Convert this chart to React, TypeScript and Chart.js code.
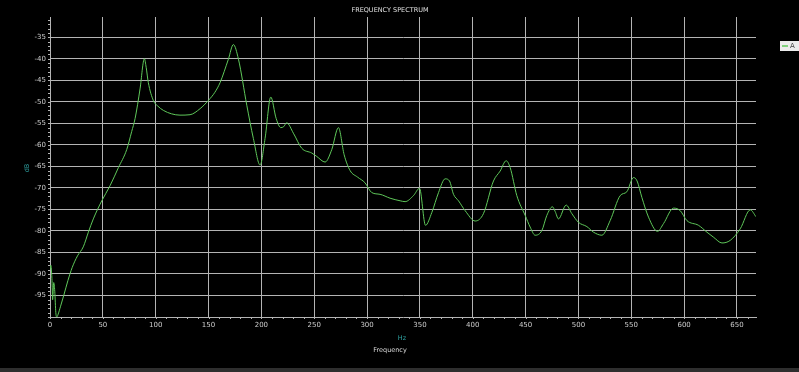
import React, { useEffect, useRef } from "react";
import { Chart, registerables } from "chart.js";

Chart.register(...registerables);

const chartTitle = "FREQUENCY SPECTRUM";
const seriesName = "A";
const xUnit = "Hz";
const xTitle = "Frequency";
const yUnit = "dB";

const xTicks = [0, 50, 100, 150, 200, 250, 300, 350, 400, 450, 500, 550, 600, 650];
const yTicks = [-95, -90, -85, -80, -75, -70, -65, -60, -55, -50, -45, -40, -35];

const freqHz = [
  0, 0.8, 1.8, 2.5, 3.5, 4.5, 5.5, 6.5, 7.5, 10, 13, 17, 21, 26, 31.5, 36.3, 41, 49, 56.8, 64.7,
  72.6, 77.3, 80.5, 85.2, 89.3, 91, 93, 97.8, 102, 107.3, 115, 123, 132.5, 142, 149.8, 156, 161,
  168.8, 173.5, 178.3, 186.2, 192.4, 198.8, 203.5, 208.9, 214, 218.4, 221, 224, 230.3, 238.2,
  247.6, 252.4, 260.3, 266.6, 272.9, 278.3, 284, 291, 298, 304.5, 312.3, 321.8, 331.3, 336,
  343.9, 349.6, 355.3, 361.3, 367.6, 373.9, 378, 381.8, 386.5, 392.8, 402.3, 410.1, 419.6,
  425.9, 431.6, 435.4, 441.7, 449.6, 454.3, 459, 465.4, 470.1, 475.4, 478, 481.1, 488.4, 493.8,
  500, 508, 514.3, 522.2, 530, 539.5, 545.8, 552.1, 555.5, 560, 566.3, 574.8, 580.5, 590, 596.3,
  602.6, 613.6, 621.6, 628, 635.8, 643.6, 653.1, 662.6, 668,
];

const levelDb = [
  -89, -88, -91, -96, -92, -94, -99, -100, -99.5, -97.5, -95, -91.5, -88.5, -85.8, -83.7, -80.3,
  -77.2, -73, -69.5, -65.3, -61.1, -56.9, -53.9, -47, -40, -42, -45.5, -49.7, -51, -52, -52.8,
  -53.1, -53, -51.6, -49.7, -47.8, -45.5, -40.1, -36.7, -40.1, -50.8, -58.5, -64.7, -58.5, -48.9,
  -53.9, -56, -55.8, -54.9, -57.3, -60.8, -61.9, -62.7, -64, -61.1, -56, -62.3, -66, -67.5,
  -68.8, -71.1, -71.5, -72.4, -73, -73.2, -71.8, -70.1, -78.7, -75.7, -71.1, -67.9, -68.4,
  -71.5, -73, -75.3, -77.7, -76, -68.4, -66.1, -63.7, -65.3, -71.8, -76.4, -79.1, -81, -79.9,
  -76.4, -74.4, -75.5, -77.2, -74, -76, -78, -79, -80.3, -81, -77.6, -71.8, -70.9, -67.6, -68.4,
  -72.2, -76.8, -80.1, -78.3, -74.7, -75.3, -77.6, -78.7, -80.3, -81.5, -82.8, -82.2, -79.5,
  -75.1, -76.7,
];

const lineColor = "#5fc85a";
const gridColor = "#b4b4b4";
const tickColor = "#cdcdcd";
const tealColor = "#2fa3a3";

const extrasPlugin = {
  id: "extras",
  afterDraw(chart: any) {
    const ctx = chart.ctx as CanvasRenderingContext2D;
    const area = chart.chartArea;
    const xs = chart.scales.x;
    const ys = chart.scales.y;
    ctx.save();
    ctx.strokeStyle = gridColor;
    ctx.lineWidth = 1;
    ctx.beginPath();
    for (let v = 0; v <= xs.max; v += 10) {
      const px = Math.round(xs.getPixelForValue(v)) + 0.5;
      ctx.moveTo(px, area.bottom);
      ctx.lineTo(px, area.bottom + 2);
    }
    for (let v = -100; v <= ys.max; v += 1) {
      const py = Math.round(ys.getPixelForValue(v)) + 0.5;
      ctx.moveTo(area.left - 2, py);
      ctx.lineTo(area.left, py);
    }
    ctx.stroke();
    ctx.fillStyle = "#e0e0e0";
    ctx.font = "6.5px 'DejaVu Sans'";
    ctx.textAlign = "center";
    ctx.textBaseline = "middle";
    ctx.fillText(chartTitle, 390, 10);
    ctx.fillStyle = tealColor;
    ctx.fillText(xUnit, 402, 338);
    ctx.fillStyle = "#dadada";
    ctx.fillText(xTitle, 390, 350);
    ctx.save();
    ctx.translate(27, 168);
    ctx.rotate(-Math.PI / 2);
    ctx.fillStyle = tealColor;
    ctx.fillText(yUnit, 0, 0);
    ctx.restore();
    ctx.fillStyle = "#ececec";
    ctx.fillRect(780, 41, 22, 10);
    ctx.strokeStyle = lineColor;
    ctx.lineWidth = 1.5;
    ctx.beginPath();
    ctx.moveTo(782, 46);
    ctx.lineTo(788, 46);
    ctx.stroke();
    ctx.fillStyle = "#444";
    ctx.font = "7px 'DejaVu Sans'";
    ctx.textAlign = "left";
    ctx.fillText(seriesName, 790, 46.5);
    ctx.restore();
  },
};

export default function App() {
  const ref = useRef<HTMLCanvasElement | null>(null);
  useEffect(() => {
    if (!ref.current) return;
    const data = freqHz.map((f, i) => ({ x: f, y: levelDb[i] }));
    const chart = new Chart(ref.current, {
      type: "line",
      data: {
        datasets: [
          {
            label: seriesName,
            data,
            borderColor: lineColor,
            borderWidth: 1,
            pointRadius: 0,
            cubicInterpolationMode: "monotone",
            fill: false,
          },
        ],
      },
      options: {
        animation: false,
        responsive: true,
        maintainAspectRatio: false,
        layout: { padding: { top: 17, right: 43, left: 0, bottom: 0 } },
        plugins: { legend: { display: false }, title: { display: false }, tooltip: { enabled: false } },
        scales: {
          x: {
            type: "linear",
            min: 0,
            max: 668,
            afterBuildTicks: (s: any) => {
              s.ticks = xTicks.map((v) => ({ value: v }));
            },
            afterFit: (s: any) => {
              s.height = 51;
            },
            ticks: {
              color: tickColor,
              font: { family: "DejaVu Sans", size: 7 },
              padding: 4,
              maxRotation: 0,
              autoSkip: false,
            },
            grid: { color: gridColor, drawTicks: false, lineWidth: 1 },
            border: { display: true, color: gridColor },
          },
          y: {
            type: "linear",
            min: -100,
            max: -30.3,
            afterBuildTicks: (s: any) => {
              s.ticks = yTicks.map((v) => ({ value: v }));
            },
            afterFit: (s: any) => {
              s.width = 50;
            },
            ticks: {
              color: tickColor,
              font: { family: "DejaVu Sans", size: 7 },
              padding: 4,
              autoSkip: false,
            },
            grid: { color: gridColor, drawTicks: false, lineWidth: 1 },
            border: { display: true, color: gridColor },
          },
        },
      },
      plugins: [extrasPlugin],
    });
    return () => chart.destroy();
  }, []);
  return (
    <div
      style={{
        position: "fixed",
        left: 0,
        top: 0,
        width: 799,
        height: 372,
        background: "#000",
        overflow: "hidden",
      }}
    >
      <div style={{ position: "absolute", left: 0, top: 0, width: 799, height: 368 }}>
        <canvas ref={ref} />
      </div>
      <div style={{ position: "absolute", left: 0, top: 368, width: 799, height: 4, background: "#2e2e2e" }} />
    </div>
  );
}
